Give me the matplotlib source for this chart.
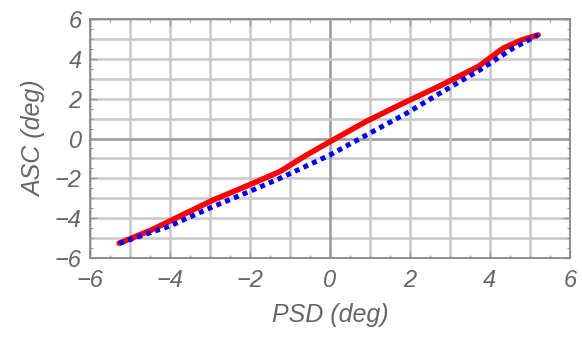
import matplotlib.pyplot as plt
import numpy as np

# measured ASC vs PSD (deg)
psd_meas = [-5.27, -4.46, -3.6, -2.92, -2.1, -1.25, -0.6, 0.0, 0.9, 1.83, 2.75, 3.2, 3.71, 4.33, 4.8, 5.21]
asc_meas = [-5.26, -4.59, -3.75, -3.09, -2.4, -1.66, -0.85, -0.16, 0.85, 1.77, 2.64, 3.1, 3.61, 4.53, 4.95, 5.2]

# reference curve
psd_ref = [-5.27, -4.0, -2.92, -2.0, -1.25, 0.0, 0.92, 1.92, 2.75, 3.75, 4.58, 5.21]
asc_ref = [-5.26, -4.39, -3.42, -2.65, -2.0, -0.83, 0.18, 1.27, 2.27, 3.44, 4.53, 5.2]

plt.rcParams['font.family'] = ['Liberation Sans', 'DejaVu Sans']
grey = '#666666'

fig = plt.figure(figsize=(5.82, 3.37), dpi=100)
ax = fig.add_axes([0.1546, 0.2344, 0.8244, 0.7092])

for v in np.arange(-6, 7, 1):
    c = '#999999' if v == 0 else '#c8c8c8'
    ax.axvline(v, color=c, lw=1.8, zorder=0)
    ax.axhline(v, color=c, lw=1.8, zorder=0)

ax.plot(psd_meas, asc_meas, color='#ff0000', lw=4.0, solid_capstyle='round', zorder=2)
ax.plot(psd_ref, asc_ref, color='#0000ff', lw=3.6, linestyle=(0, (1, 0.9)),
        dash_capstyle='butt', zorder=3)

ax.set_xlim(-6, 6)
ax.set_ylim(-6, 6)
ax.set_xticks(np.arange(-6, 7, 2))
ax.set_yticks(np.arange(-6, 7, 2))
ax.set_xticks(np.arange(-6, 6.1, 0.5), minor=True)
ax.set_yticks(np.arange(-6, 6.1, 0.5), minor=True)
ax.set_xticklabels(['\u22126', '\u22124', '\u22122', '0', '2', '4', '6'])
ax.set_yticklabels(['\u22126', '\u22124', '\u22122', '0', '2', '4', '6'])
ax.tick_params(which='major', direction='in', length=5, width=1, color='#999999',
               labelsize=17, labelcolor=grey, top=True, right=True)
ax.tick_params(axis='x', which='major', pad=8)
ax.tick_params(axis='y', which='major', pad=6)
ax.tick_params(which='minor', direction='in', length=2.5, width=0.8, color='#999999',
               top=True, right=True)
for lab in ax.get_xticklabels() + ax.get_yticklabels():
    lab.set_fontstyle('italic')

for s in ax.spines.values():
    s.set_color('#888888')
    s.set_linewidth(1.3)

ax.set_xlabel('PSD (deg)', fontsize=18, color=grey, style='italic', labelpad=8)
ax.set_ylabel('ASC (deg)', fontsize=18, color=grey, style='italic', labelpad=6)

fig.savefig('out.png', dpi=100)
